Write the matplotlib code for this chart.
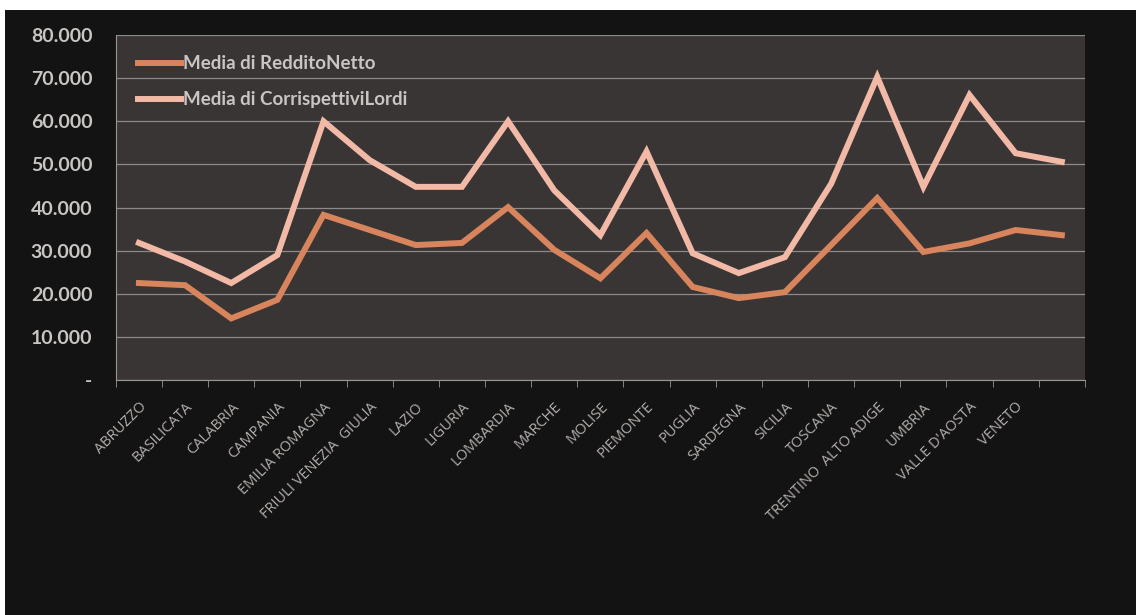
import matplotlib
matplotlib.use("Agg")
import matplotlib.pyplot as plt
from matplotlib.patches import Rectangle
from matplotlib.ticker import FuncFormatter


regioni = ["ABRUZZO", "BASILICATA", "CALABRIA", "CAMPANIA", "EMILIA ROMAGNA",
           "FRIULI VENEZIA  GIULIA", "LAZIO", "LIGURIA", "LOMBARDIA", "MARCHE",
           "MOLISE", "PIEMONTE", "PUGLIA", "SARDEGNA", "SICILIA", "TOSCANA",
           "TRENTINO  ALTO ADIGE", "UMBRIA", "VALLE D'AOSTA", "VENETO", ""]
reddito_netto = [22500, 22000, 14300, 18600, 38300, 34800, 31300, 31800, 40100, 30200,
                 23600, 34100, 21600, 19000, 20400, 31300, 42200, 29700, 31700, 34800, 33600]
corrispettivi_lordi = [31800, 27500, 22500, 29000, 60000, 51000, 44800, 44800, 60000, 44000,
                       33600, 53000, 29400, 24800, 28500, 45500, 70300, 44800, 66100, 52600, 50600]
y_ticks = [0, 10000, 20000, 30000, 40000, 50000, 60000, 70000, 80000]

col_netto = "#d8845c"
col_lordi = "#f2b9a6"
testo = "#c9c5c3"

fig = plt.figure(figsize=(11.36, 6.15), dpi=100, facecolor="white")
# black frame of the scanned slide (white strip at top/left)
fig.add_artist(Rectangle((0.004, 0), 0.996, 0.984, transform=fig.transFigure,
                         facecolor="#131313", edgecolor="none", zorder=-10))

ax = fig.add_axes([0.102, 0.382, 0.853, 0.561])
ax.set_facecolor("#3a3535")

x = list(range(len(regioni)))
ax.plot(x, reddito_netto, color=col_netto, lw=4.3, label="Media di RedditoNetto",
        solid_joinstyle="miter", zorder=3)
ax.plot(x, corrispettivi_lordi, color=col_lordi, lw=4.3, label="Media di CorrispettiviLordi",
        solid_joinstyle="miter", zorder=3)

ax.set_xlim(-0.5, len(regioni) - 0.5)
ax.set_ylim(0, 80000)
ax.set_yticks(y_ticks)
ax.yaxis.set_major_formatter(FuncFormatter(
    lambda v, p: "-" if v == 0 else f"{int(v):,}".replace(",", ".")))
ax.grid(axis="y", color="#8f8a8a", lw=0.9, zorder=1)

ax.set_xticks(x)
ax.set_xticklabels(regioni, rotation=45, ha="right", rotation_mode="anchor",
                   fontsize=10.5, color="#b3aeac", family="Open Sans")
ax.set_xticks([i - 0.5 for i in range(len(regioni) + 1)], minor=True)
ax.tick_params(axis="x", which="major", length=0, pad=14)
ax.tick_params(axis="x", which="minor", length=5, color="#9a9696", direction="out")
ax.tick_params(axis="y", length=0, pad=17, labelsize=14, labelcolor=testo)
for lab in ax.get_yticklabels():
    lab.set_fontweight("bold")
    lab.set_family("Lato")

for s in ["top", "right"]:
    ax.spines[s].set_visible(False)
ax.spines["left"].set_color("#9a9696")
ax.spines["bottom"].set_color("#9a9696")

leg = ax.legend(loc="upper left", bbox_to_anchor=(0.005, 0.99), frameon=False,
                handlelength=2.3, handletextpad=0.1, labelspacing=1.0,
                prop={"family": "Lato", "weight": "bold", "size": 13.5})
for t in leg.get_texts():
    t.set_color(testo)

fig.savefig("out.png", dpi=100, facecolor=fig.get_facecolor())
